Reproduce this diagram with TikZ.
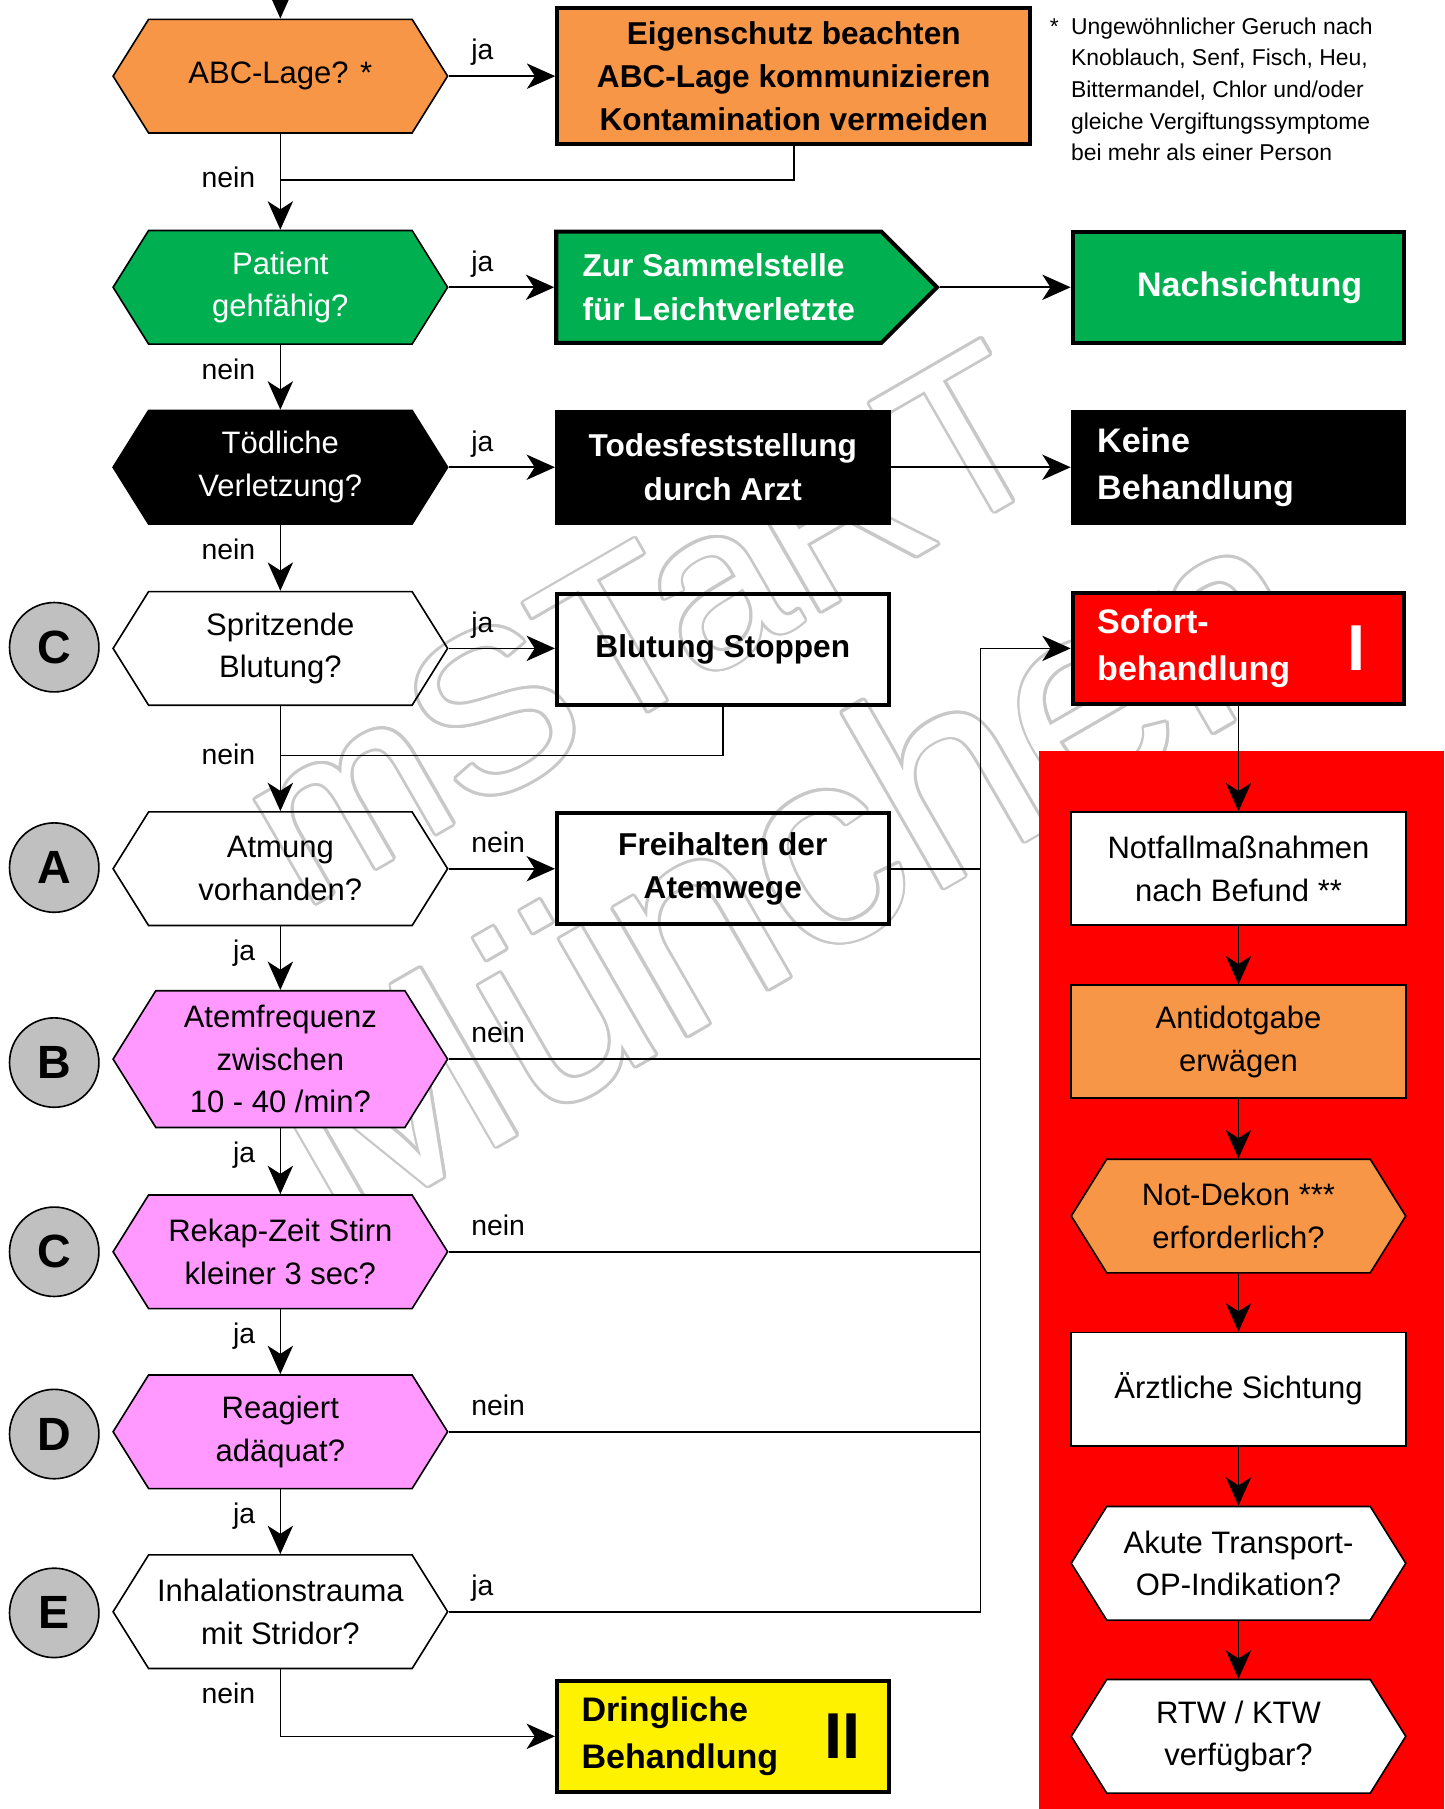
\documentclass[tikz,border=0pt]{standalone}
\usepackage{fontspec}
\setmainfont{Liberation Sans}
\usepackage{contour}
\usetikzlibrary{shapes.symbols,arrows.meta,positioning}

\definecolor{abcorange}{HTML}{F79646}
\definecolor{gruen}{HTML}{00B050}
\definecolor{rosa}{HTML}{FF99FF}
\definecolor{kreisgrau}{HTML}{C0C0C0}
\definecolor{wzgrau}{HTML}{C8C8C8}

\newcommand\normschrift{\fontsize{15.3}{21}\selectfont}
\newcommand\fettschrift{\fontsize{15.6}{21.3}\selectfont\bfseries}
\newcommand\grossfett{\fontsize{16.8}{23.3}\selectfont\bfseries}
\newcommand\labelschrift{\fontsize{14}{16}\selectfont}
\newcommand\fussschrift{\fontsize{11.3}{15.6}\selectfont}

\contourlength{1.4pt}

\tikzset{
  >={Stealth[length=14pt,width=12.5pt,inset=4pt]},
  frage/.style={signal, signal to=west and east, signal pointer angle=116, draw,
                line width=0.8pt, minimum width=5.8cm, minimum height=1.97cm,
                align=center, font=\normschrift, inner sep=1pt},
  pfeilbox/.style={signal, signal to=east, signal pointer angle=90, draw,
                   line width=2pt, minimum width=6.6cm, minimum height=1.93cm,
                   align=left, font=\fettschrift},
  massnahme/.style={rectangle, draw, line width=2pt, minimum width=5.75cm,
                    minimum height=1.93cm, align=center, font=\fettschrift},
  schritt/.style={rectangle, draw, line width=0.9pt, fill=white, minimum width=5.8cm,
                  minimum height=1.96cm, align=center, font=\normschrift},
  links/.style={text width=4.9cm, align=left, font=\grossfett},
  stufe/.style={font=\fontsize{32}{32}\selectfont\bfseries, inner sep=0pt},
  abcde/.style={circle, draw, line width=0.8pt, fill=kreisgrau, minimum size=1.55cm,
                inner sep=0pt, font=\fontsize{23}{23}\selectfont\bfseries},
  linie/.style={draw, line width=0.8pt},
  pfeil/.style={linie, ->},
  lblh/.style={font=\labelschrift, inner sep=0pt, pos=0, anchor=base west,
               xshift=10.8pt, yshift=8pt},
  lblv/.style={font=\labelschrift, inner sep=0pt, pos=0, anchor=base east,
               xshift=-12pt, yshift=-17pt},
  wasserzeichen/.style={text=white, inner sep=0pt, anchor=base west, rotate=30}
}

\begin{document}
\begin{tikzpicture}[x=0.02cm, y=-0.02cm]
    \useasboundingbox (0,0) rectangle (1252,1568);

    % Wasserzeichen
    \node[wasserzeichen, font=\fontsize{112}{116}\selectfont] (wzoben) at (262,790) {\contour{wzgrau}{mSTaRT}};
    \node[wasserzeichen, font=\fontsize{138}{142}\selectfont] (wzunten) at (290,1075) {\contour{wzgrau}{München}};

    % Feld Sofortbehandlung
    \fill[red] (901,651) rectangle (1252,1568);

    % Fragen links
    \coordinate (eingang) at (243,-5);
    \node[frage, fill=abcorange] (abc) at (243,66) {ABC-Lage? *};
    \node[frage, fill=gruen, text=white] (gehfaehig) at (243,249) {Patient\\gehfähig?};
    \node[frage, fill=black, text=white] (toedlich) at (243,405) {Tödliche\\Verletzung?};
    \node[frage] (spritzend) at (243,562) {Spritzende\\Blutung?};
    \node[frage] (atmung) at (243,753) {Atmung\\vorhanden?};
    \node[frage, fill=rosa, minimum height=2.37cm] (frequenz) at (243,918) {Atemfrequenz\\zwischen\\10 - 40 /min?};
    \node[frage, fill=rosa] (rekap) at (243,1085) {Rekap-Zeit Stirn\\kleiner 3 sec?};
    \node[frage, fill=rosa] (reagiert) at (243,1241) {Reagiert\\adäquat?};
    \node[frage] (inhalation) at (243,1397) {Inhalationstrauma\\mit Stridor?};

    % Kreise
    \node[abcde] (kreisC) at (47,561) {C};
    \node[abcde] (kreisA) at (47,752) {A};
    \node[abcde] (kreisB) at (47,921) {B};
    \node[abcde] (kreisCzwei) at (47,1085) {C};
    \node[abcde] (kreisD) at (47,1243) {D};
    \node[abcde] (kreisE) at (47,1398) {E};

    % Massnahmen Mitte
    \node[massnahme, fill=abcorange, minimum width=8.2cm, minimum height=2.35cm] (eigenschutz) at (688,66) {Eigenschutz beachten\\ABC-Lage kommunizieren\\Kontamination vermeiden};
    \node[pfeilbox, fill=gruen, text=white] (sammelstelle) at (623,249) {Zur Sammelstelle\\für Leichtverletzte};
    \node[massnahme, fill=black, text=white] (todes) at (626.5,405) {Todesfeststellung\\durch Arzt};
    \node[massnahme] (stoppen) at (626.5,563) {Blutung Stoppen};
    \node[massnahme] (freihalten) at (626.5,753) {Freihalten der\\Atemwege};
    \node[massnahme, fill=yellow, links] (dringlich) at (626.5,1505) {Dringliche\\Behandlung};
    \node[stufe] (stufeII) at (730,1505) {II};

    % Spalte rechts
    \node[massnahme, fill=gruen, text=white, font=\grossfett] (nachsichtung) at (1073.5,249) {\hspace*{11pt}Nachsichtung};
    \node[massnahme, fill=black, text=white, links] (keine) at (1073.5,405) {Keine\\Behandlung};
    \node[massnahme, fill=red, text=white, links] (sofort) at (1073.5,562) {Sofort-\\behandlung};
    \node[stufe, text=white] (stufeI) at (1176,562) {I};
    \node[schritt] (notfall) at (1073.5,753) {Notfallmaßnahmen\\nach Befund **};
    \node[schritt, fill=abcorange] (antidot) at (1073.5,903) {Antidotgabe\\erwägen};
    \node[frage, fill=abcorange] (dekon) at (1073.5,1054) {Not-Dekon ***\\erforderlich?};
    \node[schritt] (sichtung) at (1073.5,1204) {Ärztliche Sichtung};
    \node[frage, fill=white] (akut) at (1073.5,1355) {Akute Transport-\\OP-Indikation?};
    \node[frage, fill=white] (rtw) at (1073.5,1505) {RTW / KTW\\verfügbar?};

    % Fussnote
    \node[font=\fussschrift, align=left, inner sep=0pt, anchor=north west] (fussnote) at (928,15) {\llap{*\hspace{6pt}}Ungewöhnlicher Geruch nach\\Knoblauch, Senf, Fisch, Heu,\\Bittermandel, Chlor und/oder\\gleiche Vergiftungssymptome\\bei mehr als einer Person};

    % Verbindungen links
    \coordinate (rueckA) at (243,156);
    \coordinate (rueckB) at (243,655);
    \coordinate (sammler) at (850,562);
    \draw[pfeil] (eingang) -- (abc.north);
    \draw[pfeil] (abc.east) -- node[lblh]{ja} (eigenschutz.west);
    \draw[linie] (eigenschutz.south) |- (rueckA);
    \draw[pfeil] (abc.south) -- node[lblv, yshift=-9.7pt]{nein} (gehfaehig.north);
    \draw[pfeil] (gehfaehig.east) -- node[lblh]{ja} (sammelstelle.west);
    \draw[pfeil] (sammelstelle.east) -- (nachsichtung.west);
    \draw[pfeil] (gehfaehig.south) -- node[lblv]{nein} (toedlich.north);
    \draw[pfeil] (toedlich.east) -- node[lblh]{ja} (todes.west);
    \draw[pfeil] (todes.east) -- (keine.west);
    \draw[pfeil] (toedlich.south) -- node[lblv]{nein} (spritzend.north);
    \draw[pfeil] (spritzend.east) -- node[lblh]{ja} (stoppen.west |- spritzend.east);
    \draw[linie] (stoppen.south) |- (rueckB);
    \draw[pfeil] (spritzend.south) -- node[lblv, yshift=-12pt]{nein} (atmung.north);
    \draw[pfeil] (atmung.east) -- node[lblh]{nein} (freihalten.west);
    \draw[pfeil] (atmung.south) -- node[lblv]{ja} (frequenz.north);
    \draw[pfeil] (frequenz.south) -- node[lblv]{ja} (rekap.north);
    \draw[pfeil] (rekap.south) -- node[lblv]{ja} (reagiert.north);
    \draw[pfeil] (reagiert.south) -- node[lblv]{ja} (inhalation.north);
    \draw[pfeil] (inhalation.south) |- node[lblv]{nein} (dringlich.west);

    % Sammelleitung zur Sofortbehandlung
    \draw[pfeil] (inhalation.east) -- node[lblh]{ja} (inhalation.east -| sammler) -- (sammler) -- (sofort.west);
    \draw[linie] (freihalten.east) -- (freihalten.east -| sammler);
    \draw[linie] (frequenz.east) -- node[lblh]{nein} (frequenz.east -| sammler);
    \draw[linie] (rekap.east) -- node[lblh]{nein} (rekap.east -| sammler);
    \draw[linie] (reagiert.east) -- node[lblh]{nein} (reagiert.east -| sammler);

    % Verbindungen rechts
    \draw[pfeil] (sofort.south) -- (notfall.north);
    \draw[pfeil] (notfall.south) -- (antidot.north);
    \draw[pfeil] (antidot.south) -- (dekon.north);
    \draw[pfeil] (dekon.south) -- (sichtung.north);
    \draw[pfeil] (sichtung.south) -- (akut.north);
    \draw[pfeil] (akut.south) -- (rtw.north);

\end{tikzpicture}
\end{document}
